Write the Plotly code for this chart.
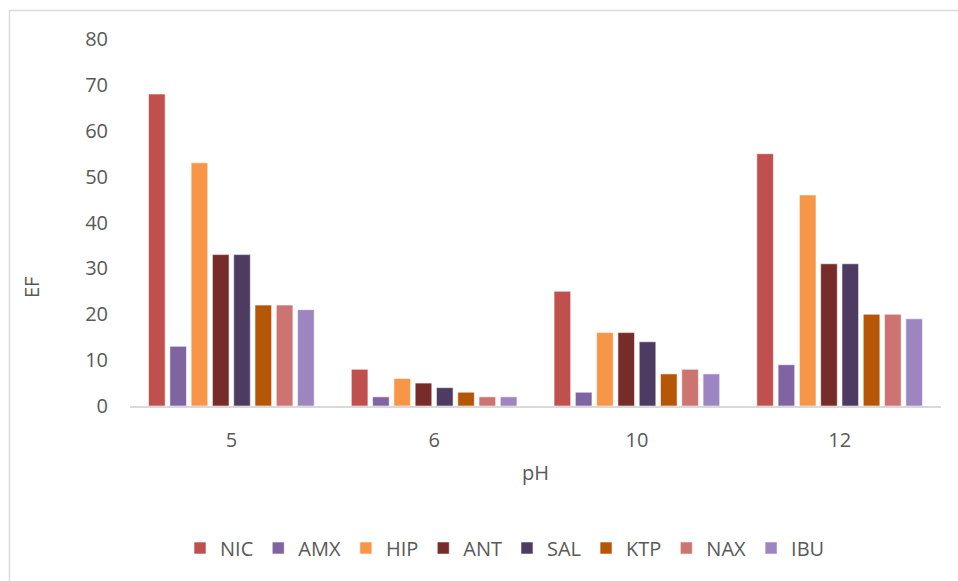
import plotly.graph_objects as go

# pH levels on the category axis
ph_levels = ["5", "6", "10", "12"]

# Enrichment factor (EF) per analyte at each pH
nic = [68, 8, 25, 55]
amx = [13, 2, 3, 9]
hip = [53, 6, 16, 46]
ant = [33, 5, 16, 31]
sal = [33, 4, 14, 31]
ktp = [22, 3, 7, 20]
nax = [22, 2, 8, 20]
ibu = [21, 2, 7, 19]

series = [
    ("NIC", nic, "#C0504D"),
    ("AMX", amx, "#8064A2"),
    ("HIP", hip, "#F79646"),
    ("ANT", ant, "#772C2A"),
    ("SAL", sal, "#4D3B62"),
    ("KTP", ktp, "#B65708"),
    ("NAX", nax, "#CD7371"),
    ("IBU", ibu, "#9C85C0"),
]

FONT = "Open Sans, DejaVu Sans, sans-serif"
TEXT = "#595959"
FS = 20

W, H = 958, 581
ML, MR, MT, MB = 130, 17, 39, 175
PW, PH = W - ML - MR, H - MT - MB


def px_x(p):
    return (p - ML) / PW


def px_y(p):
    return (H - MB - p) / PH


fig = go.Figure()
for name, vals, color in series:
    fig.add_trace(go.Bar(
        name=name, x=ph_levels, y=vals,
        marker=dict(color=color, line=dict(color="rgba(255,255,255,0.55)", width=1)),
    ))

fig.update_layout(
    width=W, height=H,
    margin=dict(l=ML, r=MR, t=MT, b=MB),
    paper_bgcolor="white", plot_bgcolor="white",
    barmode="group", bargap=0.16, bargroupgap=0.22,
    font=dict(family=FONT, size=FS, color=TEXT),
    showlegend=True,
    legend=dict(
        orientation="h", x=px_x(180), xanchor="left",
        y=px_y(548), yanchor="middle",
        font=dict(family=FONT, size=FS, color=TEXT),
        itemwidth=30, tracegroupgap=0,
    ),
    xaxis=dict(
        type="category", showgrid=False, zeroline=False,
        showline=True, linecolor="#D9D9D9", linewidth=2,
        ticks="", ticklabelstandoff=15,
        tickfont=dict(family=FONT, size=FS, color=TEXT),
        title=dict(text="pH", font=dict(family=FONT, size=FS, color=TEXT), standoff=14),
    ),
    yaxis=dict(
        range=[0, 80], dtick=10, showgrid=False, zeroline=False,
        showline=False, ticks="", ticklabelstandoff=21,
        tickfont=dict(family=FONT, size=FS, color=TEXT),
    ),
    annotations=[
        dict(text="EF", xref="paper", yref="paper", x=px_x(31), y=px_y(288),
             xanchor="center", yanchor="middle",
             showarrow=False, textangle=-90,
             font=dict(family=FONT, size=FS, color=TEXT)),
    ],
    shapes=[
        dict(type="rect", xref="paper", yref="paper",
             x0=px_x(9.5), x1=px_x(975), y0=px_y(600), y1=px_y(10.5),
             line=dict(color="#D9D9D9", width=1.5), fillcolor="rgba(0,0,0,0)",
             layer="below"),
    ],
)

fig.write_html("out.html")
